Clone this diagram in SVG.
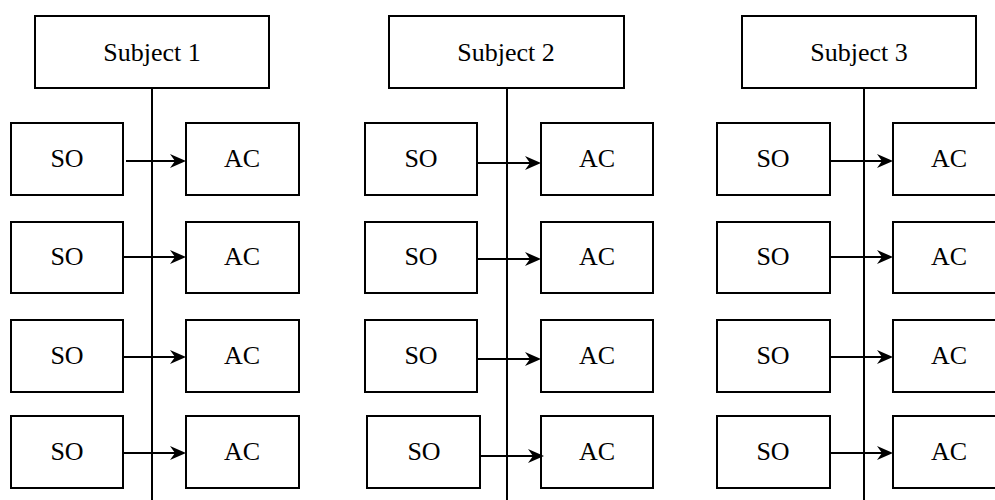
<svg xmlns="http://www.w3.org/2000/svg" width="995" height="500" viewBox="0 0 995 500">
  <style>
    .box { fill: #ffffff; stroke: #000000; stroke-width: 2; }
    .lbl { font-family: "Liberation Serif", "Times New Roman", serif; font-size: 26px; fill: #000000; text-anchor: middle; }
    .spine { stroke: #000000; stroke-width: 2; fill: none; }
    .link { stroke: #000000; stroke-width: 2; fill: none; marker-end: url(#head); }
  </style>
  <defs>
    <marker id="head" markerUnits="userSpaceOnUse" markerWidth="16" markerHeight="14" refX="5" refY="7" orient="auto" overflow="visible">
      <path d="M0,0 L16,7 L0,14 L5,7 Z" fill="#000000"/>
    </marker>
  </defs>
  <rect width="995" height="500" fill="#ffffff"/>

  <!-- vertical spines under each subject -->
  <g id="spines">
    <line class="spine" x1="152" y1="88" x2="152" y2="500"/>
    <line class="spine" x1="507" y1="88" x2="507" y2="500"/>
    <line class="spine" x1="864" y1="88" x2="864" y2="500"/>
  </g>

  <!-- subject headers -->
  <g id="subject1"><rect class="box" x="35" y="16" width="234" height="72"/><text class="lbl" x="152" y="61">Subject 1</text></g>
  <g id="subject2"><rect class="box" x="389" y="16" width="235" height="72"/><text class="lbl" x="506" y="61">Subject 2</text></g>
  <g id="subject3"><rect class="box" x="742" y="16" width="234" height="72"/><text class="lbl" x="859" y="61">Subject 3</text></g>

  <!-- column 1 -->
  <g id="so1-1"><rect class="box" x="11" y="123" width="112" height="72"/><text class="lbl" x="67" y="167">SO</text></g>
  <g id="ac1-1"><rect class="box" x="186" y="123" width="113" height="72"/><text class="lbl" x="242" y="167">AC</text></g>
  <g id="so1-2"><rect class="box" x="11" y="222" width="112" height="71"/><text class="lbl" x="67" y="265">SO</text></g>
  <g id="ac1-2"><rect class="box" x="186" y="222" width="113" height="71"/><text class="lbl" x="242" y="265">AC</text></g>
  <g id="so1-3"><rect class="box" x="11" y="320" width="112" height="72"/><text class="lbl" x="67" y="364">SO</text></g>
  <g id="ac1-3"><rect class="box" x="186" y="320" width="113" height="72"/><text class="lbl" x="242" y="364">AC</text></g>
  <g id="so1-4"><rect class="box" x="11" y="416" width="112" height="72"/><text class="lbl" x="67" y="460">SO</text></g>
  <g id="ac1-4"><rect class="box" x="186" y="416" width="113" height="72"/><text class="lbl" x="242" y="460">AC</text></g>

  <!-- column 2 -->
  <g id="so2-1"><rect class="box" x="365" y="123" width="112" height="72"/><text class="lbl" x="421" y="167">SO</text></g>
  <g id="ac2-1"><rect class="box" x="541" y="123" width="112" height="72"/><text class="lbl" x="597" y="167">AC</text></g>
  <g id="so2-2"><rect class="box" x="365" y="222" width="112" height="71"/><text class="lbl" x="421" y="265">SO</text></g>
  <g id="ac2-2"><rect class="box" x="541" y="222" width="112" height="71"/><text class="lbl" x="597" y="265">AC</text></g>
  <g id="so2-3"><rect class="box" x="365" y="320" width="112" height="72"/><text class="lbl" x="421" y="364">SO</text></g>
  <g id="ac2-3"><rect class="box" x="541" y="320" width="112" height="72"/><text class="lbl" x="597" y="364">AC</text></g>
  <g id="so2-4"><rect class="box" x="367" y="416" width="113" height="72"/><text class="lbl" x="424" y="460">SO</text></g>
  <g id="ac2-4"><rect class="box" x="541" y="416" width="112" height="72"/><text class="lbl" x="597" y="460">AC</text></g>

  <!-- column 3 -->
  <g id="so3-1"><rect class="box" x="717" y="123" width="113" height="72"/><text class="lbl" x="773" y="167">SO</text></g>
  <g id="ac3-1"><rect class="box" x="893" y="123" width="113" height="72"/><text class="lbl" x="949" y="167">AC</text></g>
  <g id="so3-2"><rect class="box" x="717" y="222" width="113" height="71"/><text class="lbl" x="773" y="265">SO</text></g>
  <g id="ac3-2"><rect class="box" x="893" y="222" width="113" height="71"/><text class="lbl" x="949" y="265">AC</text></g>
  <g id="so3-3"><rect class="box" x="717" y="320" width="113" height="72"/><text class="lbl" x="773" y="364">SO</text></g>
  <g id="ac3-3"><rect class="box" x="893" y="320" width="113" height="72"/><text class="lbl" x="949" y="364">AC</text></g>
  <g id="so3-4"><rect class="box" x="717" y="416" width="113" height="72"/><text class="lbl" x="773" y="460">SO</text></g>
  <g id="ac3-4"><rect class="box" x="893" y="416" width="113" height="72"/><text class="lbl" x="949" y="460">AC</text></g>

  <!-- SO to AC connectors (line stops 11px short; the marker tip reaches the box edge) -->
  <g id="connectors">
    <line class="link" x1="126" y1="161" x2="175" y2="161"/>
    <line class="link" x1="123" y1="257" x2="175" y2="257"/>
    <line class="link" x1="123" y1="357" x2="175" y2="357"/>
    <line class="link" x1="123" y1="453" x2="175" y2="453"/>

    <line class="link" x1="477" y1="163" x2="530" y2="163"/>
    <line class="link" x1="477" y1="259" x2="530" y2="259"/>
    <line class="link" x1="477" y1="359" x2="530" y2="359"/>
    <line class="link" x1="480" y1="456" x2="533" y2="456"/>

    <line class="link" x1="830" y1="161" x2="882" y2="161"/>
    <line class="link" x1="830" y1="257" x2="882" y2="257"/>
    <line class="link" x1="830" y1="357" x2="882" y2="357"/>
    <line class="link" x1="830" y1="453" x2="882" y2="453"/>
  </g>
</svg>
